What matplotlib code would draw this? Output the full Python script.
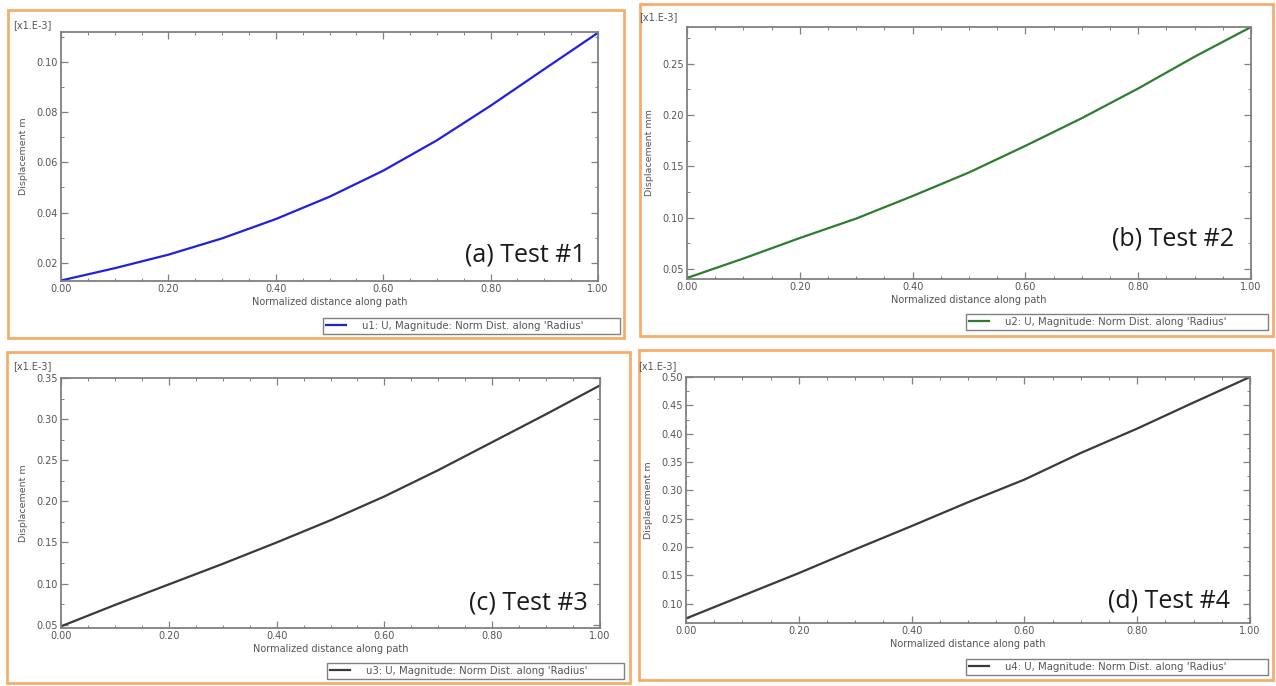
import numpy as np
import matplotlib.pyplot as plt
from matplotlib.patches import Rectangle
from matplotlib.lines import Line2D
from matplotlib.ticker import MultipleLocator, FormatStrFormatter

W, H = 1276, 686

# path positions (normalized) and displacement magnitudes [x1.E-3]
dist = [0.0, 0.1, 0.2, 0.3, 0.4, 0.5, 0.6, 0.7, 0.8, 0.9, 1.0]
u1 = [0.0129, 0.0178, 0.0232, 0.0297, 0.0374, 0.0463, 0.0567, 0.0688, 0.0826, 0.0972, 0.1117]
u2 = [0.041, 0.060, 0.080, 0.099, 0.121, 0.144, 0.170, 0.197, 0.226, 0.257, 0.286]
u3 = [0.048, 0.074, 0.099, 0.124, 0.150, 0.177, 0.206, 0.238, 0.272, 0.306, 0.341]
u4 = [0.074, 0.114, 0.154, 0.196, 0.237, 0.279, 0.319, 0.366, 0.409, 0.455, 0.500]

series_names = ["u1", "u2", "u3", "u4"]
tags = ["(a) Test #1", "(b) Test #2", "(c) Test #3", "(d) Test #4"]
ylabels = ["Displacement m", "Displacement mm", "Displacement m", "Displacement m"]
colors = ["#2020e0", "#2e7d2e", "#3a3a3a", "#3a3a3a"]
ylims = [(0.0127, 0.1120), (0.040, 0.286), (0.046, 0.350), (0.066, 0.500)]
ysteps = [0.02, 0.05, 0.05, 0.05]

# pixel layout: orange frame, axes box, legend box, tag anchor (right, bottom)
frames = [(8, 10, 624, 338), (640, 4, 1273, 336), (7, 352, 630, 683), (639, 350, 1273, 680)]
axes_px = [(61, 32, 598, 281), (687, 27, 1251, 279), (61, 378, 600, 628), (686, 377, 1250, 623)]
legends_px = [(323, 316, 620, 336), (966, 312, 1268, 332), (327, 661, 624, 681), (966, 657, 1268, 677)]
tag_px = [(586, 268), (1234, 252), (588, 616), (1230, 614)]
exp_offset = [7, 10, 12, 11]

GRAY = "#808080"
TXT = "#555555"


def fx(x):
    return x / W


def fy(y):
    return 1 - y / H


fig = plt.figure(figsize=(W / 100, H / 100), dpi=100)
fig.patch.set_facecolor("white")

curves = [u1, u2, u3, u4]
for i in range(4):
    # orange panel frame
    x0, y0, x1, y1 = frames[i]
    fig.patches.append(Rectangle((fx(x0), fy(y1)), fx(x1 - x0), (y1 - y0) / H,
                                 transform=fig.transFigure, fill=False,
                                 edgecolor="#f4ad6b", lw=2.0, zorder=0))

    l, t, r, b = axes_px[i]
    ax = fig.add_axes([fx(l), fy(b), fx(r - l), (b - t) / H])
    ax.plot(dist, curves[i], color=colors[i], lw=1.6, solid_capstyle="round",
            solid_joinstyle="round")
    ax.set_xlim(0, 1)
    ax.set_ylim(*ylims[i])

    ax.xaxis.set_major_locator(MultipleLocator(0.2))
    ax.xaxis.set_minor_locator(MultipleLocator(0.05))
    ax.yaxis.set_major_locator(MultipleLocator(ysteps[i]))
    ax.yaxis.set_minor_locator(MultipleLocator(ysteps[i] / 2))
    ax.xaxis.set_major_formatter(FormatStrFormatter("%.2f"))
    ax.yaxis.set_major_formatter(FormatStrFormatter("%.2f"))
    ax.tick_params(which="both", direction="in", top=True, right=True,
                   color=GRAY, labelcolor=TXT, labelsize=7, pad=2)
    ax.tick_params(which="major", length=5, width=0.9)
    ax.tick_params(which="minor", length=2.5, width=0.7)
    for sp in ax.spines.values():
        sp.set_color(GRAY)
        sp.set_linewidth(1.3)

    ax.set_xlabel("Normalized distance along path", fontsize=7, color=TXT, labelpad=2)
    ax.set_ylabel(ylabels[i], fontsize=6.8, color=TXT, labelpad=6)

    # exponent marker above the y axis
    fig.text(fx(l - 48), fy(t - exp_offset[i]), "[x1.E-3]", fontsize=7, color=TXT,
             va="center")

    # panel tag
    tx, ty = tag_px[i]
    fig.text(fx(tx), fy(ty), tags[i], fontsize=18, color="#1a1a1a",
             ha="right", va="bottom", family="Open Sans")

    # legend box below the plot
    lx0, ly0, lx1, ly1 = legends_px[i]
    handle = Line2D([], [], color=colors[i], lw=1.6)
    ax.legend([handle], [f"{series_names[i]}: U, Magnitude: Norm Dist. along 'Radius'"],
              loc="center right",
              bbox_to_anchor=(fx(lx0), fy(ly1), fx(lx1 - lx0), (ly1 - ly0) / H),
              bbox_transform=fig.transFigure, mode="expand", fancybox=False,
              edgecolor=GRAY, fontsize=7.3, labelcolor=TXT, borderaxespad=0,
              borderpad=0.3, handlelength=2.0, handletextpad=1.5, framealpha=1)

fig.savefig("out.png", dpi=100, facecolor="white")
